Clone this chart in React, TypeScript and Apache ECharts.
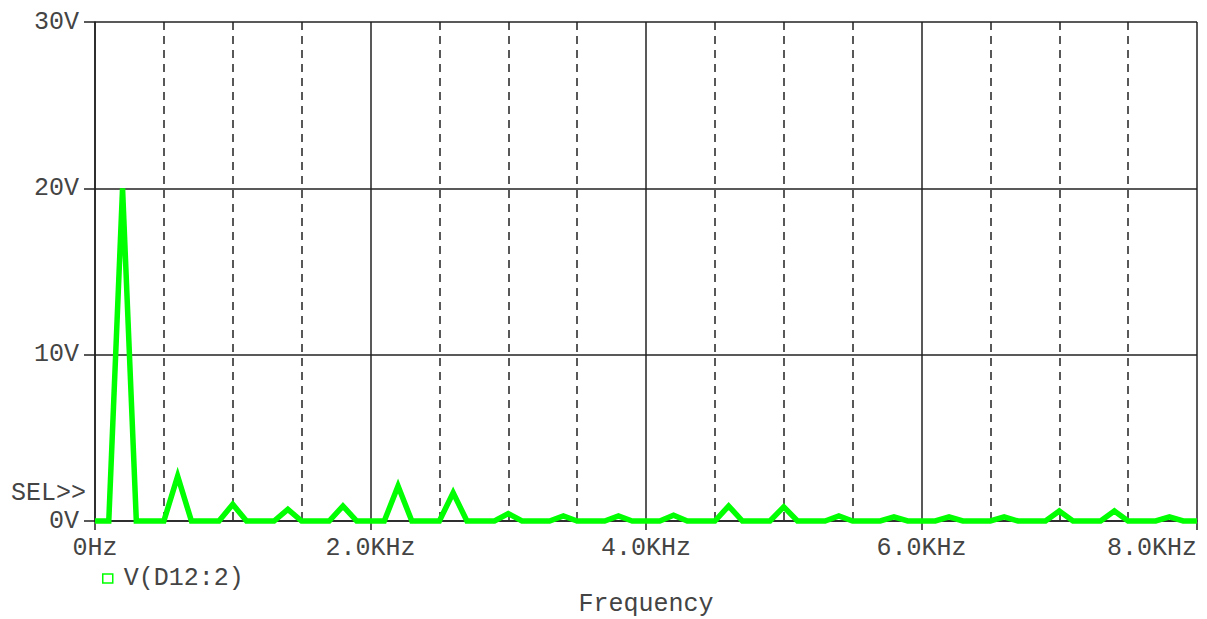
import React, { useEffect, useRef } from "react";
import * as echarts from "echarts";

// Frequency samples (Hz), 100 Hz spacing
const frequencies = [
  0, 100, 200, 300, 400, 500, 600, 700, 800, 900,
  1000, 1100, 1200, 1300, 1400, 1500, 1600, 1700, 1800, 1900,
  2000, 2100, 2200, 2300, 2400, 2500, 2600, 2700, 2800, 2900,
  3000, 3100, 3200, 3300, 3400, 3500, 3600, 3700, 3800, 3900,
  4000, 4100, 4200, 4300, 4400, 4500, 4600, 4700, 4800, 4900,
  5000, 5100, 5200, 5300, 5400, 5500, 5600, 5700, 5800, 5900,
  6000, 6100, 6200, 6300, 6400, 6500, 6600, 6700, 6800, 6900,
  7000, 7100, 7200, 7300, 7400, 7500, 7600, 7700, 7800, 7900,
  8000,
];

// V(D12:2) magnitude (V)
const voltages = [
  0, 0, 20, 0, 0, 0, 2.7, 0, 0, 0,
  1.0, 0, 0, 0, 0.7, 0, 0, 0, 0.9, 0,
  0, 0, 2.1, 0, 0, 0, 1.7, 0, 0, 0,
  0.45, 0, 0, 0, 0.3, 0, 0, 0, 0.3, 0,
  0, 0, 0.35, 0, 0, 0, 0.9, 0, 0, 0,
  0.85, 0, 0, 0, 0.3, 0, 0, 0, 0.25, 0,
  0, 0, 0.25, 0, 0, 0, 0.25, 0, 0, 0,
  0.6, 0, 0, 0, 0.6, 0, 0, 0, 0.25, 0,
  0,
];

const yTicks = [0, 10, 20, 30];
const xTickLabels: Record<number, string> = {
  0: "0Hz",
  2000: "2.0KHz",
  4000: "4.0KHz",
  6000: "6.0KHz",
  8000: "8.0KHz",
};
const seriesName = "V(D12:2)";
const xAxisTitle = "Frequency";
const selLabel = "SEL>>";

const FONT = "'Liberation Mono', 'DejaVu Sans Mono', monospace";
const TEXT = "#444";
const GRID = "#222";
const GREEN = "#00ff00";

export default function App() {
  const ref = useRef<HTMLDivElement>(null);

  useEffect(() => {
    if (!ref.current) return;
    const chart = echarts.init(ref.current, undefined, { renderer: "svg" });
    const data = frequencies.map((f, i) => [f, voltages[i]]);
    chart.setOption({
      animation: false,
      backgroundColor: "#fff",
      textStyle: { fontFamily: FONT },
      grid: {
        left: 95,
        right: 10,
        top: 22,
        bottom: 98,
        containLabel: false,
        outerBoundsMode: "none",
      },
      legend: {
        left: 97,
        top: 561,
        itemWidth: 10,
        itemHeight: 9,
        itemGap: 10,
        textStyle: { fontFamily: FONT, fontSize: 25, color: TEXT, padding: [0, 0, 0, 6] },
        data: [
          {
            name: seriesName,
            icon: "rect",
            itemStyle: { color: "transparent", borderColor: GREEN, borderWidth: 1.5 },
          },
        ],
      },
      xAxis: {
        type: "value",
        min: 0,
        max: 8000,
        interval: 2000,
        name: xAxisTitle,
        nameLocation: "middle",
        nameGap: 71,
        nameTextStyle: { fontFamily: FONT, fontSize: 25, color: TEXT },
        axisLine: { show: true, onZero: false, lineStyle: { color: GRID, width: 1.5 } },
        axisTick: { show: true, length: 9, lineStyle: { color: GRID, width: 1.5 } },
        axisLabel: {
          fontFamily: FONT,
          fontSize: 25,
          color: TEXT,
          margin: 15,
          alignMaxLabel: "right",
          formatter: (v: number) => xTickLabels[v] ?? "",
        },
        splitLine: { show: true, lineStyle: { color: GRID, width: 1.5 } },
        minorTick: { show: false, splitNumber: 4 },
        minorSplitLine: { show: true, lineStyle: { color: GRID, width: 1.5, type: [8, 6] } },
      },
      yAxis: {
        type: "value",
        min: yTicks[0],
        max: yTicks[yTicks.length - 1],
        interval: 10,
        axisLine: { show: true, lineStyle: { color: GRID, width: 1.5 } },
        axisTick: { show: true, length: 11, lineStyle: { color: GRID, width: 1.5 } },
        axisLabel: {
          fontFamily: FONT,
          fontSize: 25,
          color: TEXT,
          margin: 16,
          formatter: (v: number) => `${v}V`,
        },
        splitLine: { show: true, lineStyle: { color: GRID, width: 1.5 } },
      },
      graphic: [
        {
          type: "text",
          left: 11,
          top: 481,
          style: { text: selLabel, font: `25px ${FONT}`, fill: TEXT },
        },
      ],
      series: [
        {
          name: seriesName,
          type: "line",
          data,
          showSymbol: false,
          symbol: "none",
          lineStyle: { color: GREEN, width: 5.5, join: "miter" },
          itemStyle: { color: GREEN },
          clip: false,
        },
      ],
    });
    return () => chart.dispose();
  }, []);

  return (
    <div
      ref={ref}
      style={{ position: "fixed", left: 0, top: 0, width: 1207, height: 619 }}
    />
  );
}
